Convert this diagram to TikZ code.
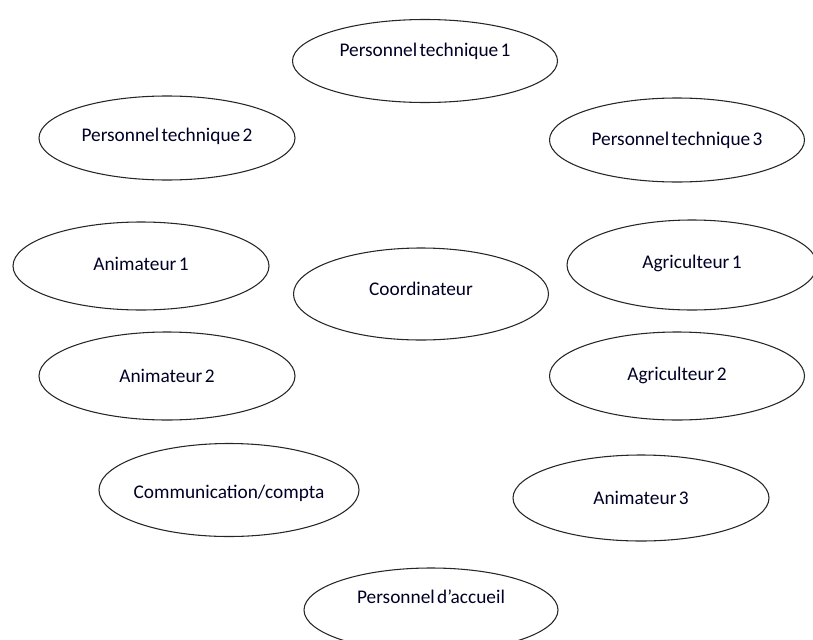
\documentclass[tikz,border=0pt]{standalone}
\usepackage{fontspec}
\setmainfont{Carlito}
\usepackage{xcolor}
\usepackage{tikz}
\usetikzlibrary{shapes.geometric}
\newcommand{\postefont}{\fontsize{14.5}{17}\selectfont\spaceskip=0.12em\relax}
\tikzset{
  poste/.style={ellipse, draw=black!85, line width=0.8pt, inner sep=0pt},
  postetxt/.style={font=\postefont, text=black!85!blue}
}
% #1 nom, #2 x, #3 y, #4 largeur, #5 hauteur, #6 texte, #7 decalage du texte
\newcommand{\poste}[7]{%
  \node[poste, minimum width=#4*0.75pt, minimum height=#5*0.75pt] (#1) at (#2,#3) {};
  \node[postetxt] (#1-txt) at ([yshift=#7*0.75pt]#1.center) {#6};%
}

\begin{document}
\begin{tikzpicture}[x=0.75pt, y=-0.75pt]
        \useasboundingbox (0,0) rectangle (813,639);
        \clip (0,0) rectangle (813,639);
        \poste{tech1}{425}{61}{265}{83}{Personnel technique 1}{10}
        \poste{tech2}{167}{138}{256}{84}{Personnel technique 2}{2}
        \poste{tech3}{677}{140}{255}{84}{Personnel technique 3}{0}
        \poste{anim1}{141}{266}{256}{88}{Animateur 1}{2}
        \poste{agri1}{692}{265}{250}{90}{Agriculteur 1}{2}
        \poste{coord}{421}{294}{255}{92}{Coordinateur}{5}
        \poste{anim2}{167}{376}{256}{88}{Animateur 2}{0}
        \poste{agri2}{677}{376}{255}{88}{Agriculteur 2}{1}
        \poste{compta}{229}{490}{260}{93}{Communication/compta}{-3}
        \poste{anim3}{641}{498}{256}{86}{Animateur 3}{0}
        \poste{accueil}{431}{610}{254}{84}{Personnel d’accueil}{13}
      \end{tikzpicture}
\end{document}
